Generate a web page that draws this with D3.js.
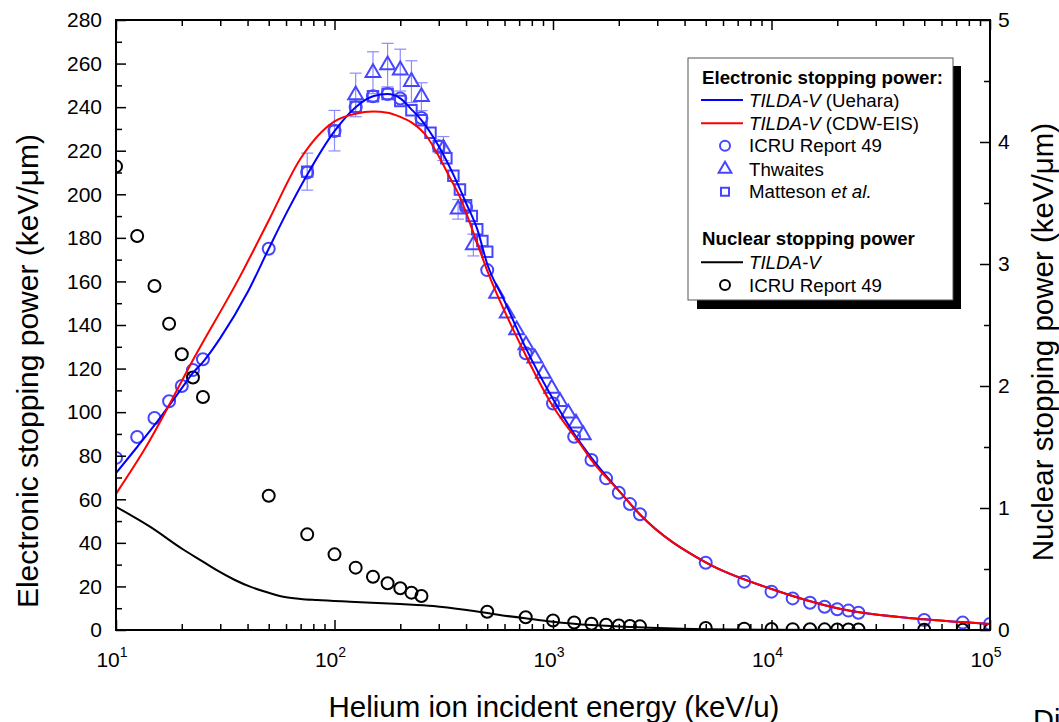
<!DOCTYPE html>
<html>
<head>
<meta charset="utf-8">
<script src="https://cdn.jsdelivr.net/npm/d3@7"></script>
<style>
  body { margin: 0; background: #fff; }
  svg { font-family: "Liberation Sans", Arial, sans-serif; }
</style>
</head>
<body>
<svg width="1059" height="722"></svg>
<script>
const svg = d3.select('svg');

// ---- data ----
// TILDA-V (Uehara), electronic, keV/um
const uehE = [10,12.5,15,17.5,20,22.5,25,30,40,50,60,75,100,125,150,175,200,225,250,300,350,400,450,500,600,750,1000,1250,1500,2000,2500,5000,10000,20000,50000,100000];
const uehV = [72,84,94,103,111,118,123,134,155,175,191,209,229,240,245,246,244,239,234,222,209,196,184,168,151,129.5,106,90,79,64,53,31,18.8,10,4.9,2.8];
// TILDA-V (CDW-EIS)
const cdwE = [10,13.6,23.4,36.9,50,69.5,100,125,150,175,200,225,265,300,340,376,430,500,730,970,1376,1500,2000,2500,5000,10000,20000,50000,100000];
const cdwV = [62.5,83.4,127,162.2,188,216,233.5,237,238,237.4,235.5,233,226.4,217.5,207,198.5,183,165,128.5,104.8,83.4,78,64,53,31,18.8,10,4.9,2.8];
// ICRU Report 49, electronic
const icruE = [10,12.5,15,17.5,20,22.5,25,50,75,100,125,150,175,200,250,300,400,500,750,1000,1250,1500,1750,2000,2250,2500,5000,7500,10000,12500,15000,17500,20000,22500,25000,50000,75000,100000];
const icruV = [79,88.6,97.3,105,112,119.3,124.3,175,210,229,240,245,246,244,235,222,194,165.2,127,104,88.7,78,69.6,63,57.8,53.1,30.9,22.2,17.6,14.5,12.5,10.7,9.5,8.9,7.9,4.6,3.4,2.8];
// Thwaites
const thwE = [125,150,175,200,225,250,315,368,432,552,617,682,752,826,903,987,1077,1175,1274,1376];
const thwV = [245.6,255.8,259.3,257,251.7,244.8,221,193.1,176.7,154.5,145.4,137.7,130.8,124.7,117.8,110.9,104.8,99.5,94.9,89.5];
const thwErr = [10,9.6,10,9.6,9.6,6.4,5.5,4.5,5,0,0,0,0,0,0,0,0,0,0,0];
// Matteson et al.
const matE = [75,100,125,150,175,200,225,250,275,300,325,350,375,400,425,450,475,500];
const matV = [210.4,229.2,240.2,245,246,242.8,238.6,234,228.3,222,216.5,208.5,202.2,195,190,183.9,178.6,173.6];
const matErr = [8.5,9.3,0,0,0,0,0,0,0,0,0,0,0,0,0,0,0,0];
// Nuclear stopping power, TILDA-V (right axis)
const nucE = [10,14.3,20.3,25,28.9,35,41.1,50,58.3,70,83,117.7,200,283,403,570,810,1000,1500,2770,5000,10000,100000];
const nucV = [1.01,0.847,0.66,0.56,0.49,0.41,0.355,0.305,0.273,0.255,0.246,0.232,0.213,0.197,0.164,0.123,0.088,0.068,0.04,0.019,0.006,0.002,0.0005];
// Nuclear, ICRU Report 49
const nicE = [10,12.5,15,17.5,20,22.5,25,50,75,100,125,150,175,200,225,250,500,750,1000,1250,1500,1750,2000,2250,2500,5000,7500,10000,12500,15000,17500,20000,22500,25000,50000,75000,100000];
const nicV = [3.8,3.23,2.82,2.51,2.26,2.07,1.91,1.1,0.784,0.62,0.511,0.437,0.383,0.342,0.306,0.279,0.15,0.104,0.078,0.062,0.051,0.043,0.037,0.033,0.03,0.016,0.011,0.0085,0.007,0.006,0.0052,0.0046,0.0042,0.0038,0.002,0.0014,0.0011];

const leftTicks = d3.range(0, 281, 20);
const rightTicks = [0,1,2,3,4,5];
const xMajor = [10,100,1000,10000,100000];
const xExp = ['1','2','3','4','5'];

// ---- layout ----
const pL = 116, pR = 990, pT = 20, pB = 630;
const x = d3.scaleLog().domain([10, 1e5]).range([pL, pR]);
const yL = d3.scaleLinear().domain([0, 280]).range([pB, pT]);
const yR = d3.scaleLinear().domain([0, 5]).range([pB, pT]);

const blue = '#0000ff', mark = '#4646ff', errC = '#8c8cff';

svg.append('defs').append('clipPath').attr('id', 'clip')
  .append('rect').attr('x', pL).attr('y', pT)
  .attr('width', pR - pL).attr('height', pB - pT);

const plot = svg.append('g').attr('clip-path', 'url(#clip)');

const zip = (a, b) => a.map((d, i) => [d, b[i]]);

// error bars
const errs = zip(thwE, thwV).map((d, i) => [d[0], d[1], thwErr[i]])
  .concat(zip(matE, matV).map((d, i) => [d[0], d[1], matErr[i]]))
  .filter(d => d[2] > 0);
const eg = plot.append('g').attr('stroke', errC).attr('stroke-width', 1.2);
errs.forEach(d => {
  const cx = x(d[0]), y1 = yL(d[1] + d[2]), y2 = yL(d[1] - d[2]);
  eg.append('line').attr('x1', cx).attr('x2', cx).attr('y1', y1).attr('y2', y2);
  eg.append('line').attr('x1', cx - 6).attr('x2', cx + 6).attr('y1', y1).attr('y2', y1);
  eg.append('line').attr('x1', cx - 6).attr('x2', cx + 6).attr('y1', y2).attr('y2', y2);
});

// markers
const sym = (type, size) => d3.symbol().type(type).size(size)();
plot.append('g').selectAll('circle').data(zip(icruE, icruV)).enter().append('circle')
  .attr('cx', d => x(d[0])).attr('cy', d => yL(d[1])).attr('r', 6)
  .attr('fill', 'none').attr('stroke', mark).attr('stroke-width', 2);
plot.append('g').selectAll('path').data(zip(thwE, thwV)).enter().append('path')
  .attr('d', sym(d3.symbolTriangle, 95))
  .attr('transform', d => `translate(${x(d[0])},${yL(d[1])})`)
  .attr('fill', 'none').attr('stroke', mark).attr('stroke-width', 2);
plot.append('g').selectAll('path').data(zip(matE, matV)).enter().append('path')
  .attr('d', sym(d3.symbolSquare, 110))
  .attr('transform', d => `translate(${x(d[0])},${yL(d[1])})`)
  .attr('fill', 'none').attr('stroke', mark).attr('stroke-width', 2);
plot.append('g').selectAll('circle').data(zip(nicE, nicV)).enter().append('circle')
  .attr('cx', d => x(d[0])).attr('cy', d => yR(d[1])).attr('r', 6)
  .attr('fill', 'none').attr('stroke', '#000').attr('stroke-width', 2);

// curves
const lineL = d3.line().x(d => x(d[0])).y(d => yL(d[1])).curve(d3.curveMonotoneX);
const lineR = d3.line().x(d => x(d[0])).y(d => yR(d[1])).curve(d3.curveMonotoneX);
plot.append('path').attr('d', lineL(zip(uehE, uehV)))
  .attr('fill', 'none').attr('stroke', blue).attr('stroke-width', 2);
plot.append('path').attr('d', lineL(zip(cdwE, cdwV)))
  .attr('fill', 'none').attr('stroke', '#ff0000').attr('stroke-width', 2);
plot.append('path').attr('d', lineR(zip(nucE, nucV)))
  .attr('fill', 'none').attr('stroke', '#000').attr('stroke-width', 2);

// ---- axes (ticks point inward) ----
const xMinor = [];
xMajor.slice(0, 4).forEach(p => { for (let k = 2; k < 10; k++) xMinor.push(p * k); });

const styleAxis = g => {
  g.selectAll('.domain').remove();
  g.selectAll('.tick line').attr('stroke', '#000').attr('stroke-width', 1.5);
  g.selectAll('text').attr('fill', '#000');
};

svg.append('g').attr('transform', `translate(${pL},0)`)
  .call(d3.axisLeft(yL).tickValues(leftTicks).tickSize(-10).tickPadding(14))
  .call(styleAxis).attr('font-size', 21).attr('font-family', null);
svg.append('g').attr('transform', `translate(${pL},0)`)
  .call(d3.axisLeft(yL).tickValues(d3.range(10, 280, 20)).tickSize(-6).tickFormat(''))
  .call(styleAxis);

svg.append('g').attr('transform', `translate(${pR},0)`)
  .call(d3.axisRight(yR).tickValues(rightTicks).tickSize(-10).tickPadding(8).tickFormat(d3.format('d')))
  .call(styleAxis).attr('font-size', 21).attr('font-family', null);
svg.append('g').attr('transform', `translate(${pR},0)`)
  .call(d3.axisRight(yR).tickValues([0.5,1.5,2.5,3.5,4.5]).tickSize(-6).tickFormat(''))
  .call(styleAxis);

svg.append('g').attr('transform', `translate(0,${pB})`)
  .call(d3.axisBottom(x).tickValues(xMajor).tickSize(-10).tickFormat(''))
  .call(styleAxis);
svg.append('g').attr('transform', `translate(0,${pB})`)
  .call(d3.axisBottom(x).tickValues(xMinor).tickSize(-6).tickFormat(''))
  .call(styleAxis);
svg.append('g').attr('transform', `translate(0,${pT})`)
  .call(d3.axisTop(x).tickValues(xMajor).tickSize(-10).tickFormat(''))
  .call(styleAxis);
svg.append('g').attr('transform', `translate(0,${pT})`)
  .call(d3.axisTop(x).tickValues(xMinor).tickSize(-6).tickFormat(''))
  .call(styleAxis);

// x tick labels with superscripts
xMajor.forEach((v, i) => {
  const t = svg.append('text').attr('x', x(v) - 4).attr('y', 667)
    .attr('text-anchor', 'middle').attr('font-size', 21);
  t.append('tspan').text('10');
  t.append('tspan').attr('dy', -10).attr('font-size', 14).text(xExp[i]);
});

// frame
svg.append('rect').attr('x', pL).attr('y', pT)
  .attr('width', pR - pL).attr('height', pB - pT)
  .attr('fill', 'none').attr('stroke', '#000').attr('stroke-width', 2);

// axis titles
svg.append('text').attr('x', 554).attr('y', 717).attr('text-anchor', 'middle')
  .attr('font-size', 29.5).text('Helium ion incident energy (keV/u)');
svg.append('text').attr('transform', 'translate(38,371) rotate(-90)')
  .attr('text-anchor', 'middle').attr('font-size', 30)
  .text('Electronic stopping power (keV/\u03bcm)');
svg.append('text').attr('transform', 'translate(1053,342) rotate(-90)')
  .attr('text-anchor', 'middle').attr('font-size', 29.5)
  .text('Nuclear stopping power (keV/\u03bcm)');
svg.append('text').attr('x', 1033).attr('y', 730).attr('font-size', 29).text('Di');

// ---- legend ----
const lg = svg.append('g').attr('font-size', 18.7);
lg.append('rect').attr('x', 697).attr('y', 66).attr('width', 264).attr('height', 243).attr('fill', '#000');
lg.append('rect').attr('x', 688).attr('y', 58).attr('width', 265).attr('height', 242)
  .attr('fill', '#fff').attr('stroke', '#555').attr('stroke-width', 1);

const lx = 702, mx = 725, tx = 749;
lg.append('text').attr('x', lx).attr('y', 84).attr('font-weight', 'bold').text('Electronic stopping power:');
lg.append('text').attr('x', lx).attr('y', 245).attr('font-weight', 'bold').text('Nuclear stopping power');

const legText = (y, parts) => {
  const t = lg.append('text').attr('x', tx).attr('y', y + 6.5);
  parts.forEach(p => t.append('tspan').attr('font-style', p[1] ? 'italic' : null).text(p[0]));
};
const legLine = (y, col, parts) => {
  lg.append('line').attr('x1', 701).attr('x2', 743).attr('y1', y).attr('y2', y)
    .attr('stroke', col).attr('stroke-width', 2);
  legText(y, parts);
};
legLine(100, blue, [['TILDA-V', 1], [' (Uehara)', 0]]);
legLine(123.3, '#ff0000', [['TILDA-V', 1], [' (CDW-EIS)', 0]]);
lg.append('circle').attr('cx', mx).attr('cy', 145.7).attr('r', 5)
  .attr('fill', 'none').attr('stroke', mark).attr('stroke-width', 2);
legText(145.7, [['ICRU Report 49', 0]]);
lg.append('path').attr('d', sym(d3.symbolTriangle, 70)).attr('transform', `translate(${mx},169)`)
  .attr('fill', 'none').attr('stroke', mark).attr('stroke-width', 2);
legText(169, [['Thwaites', 0]]);
lg.append('path').attr('d', sym(d3.symbolSquare, 64)).attr('transform', `translate(${mx},191.7)`)
  .attr('fill', 'none').attr('stroke', mark).attr('stroke-width', 2);
legText(191.7, [['Matteson ', 0], ['et al.', 1]]);
legLine(262.3, '#000', [['TILDA-V', 1]]);
lg.append('circle').attr('cx', mx).attr('cy', 285).attr('r', 5)
  .attr('fill', 'none').attr('stroke', '#000').attr('stroke-width', 2);
legText(285, [['ICRU Report 49', 0]]);
</script>
</body>
</html>
